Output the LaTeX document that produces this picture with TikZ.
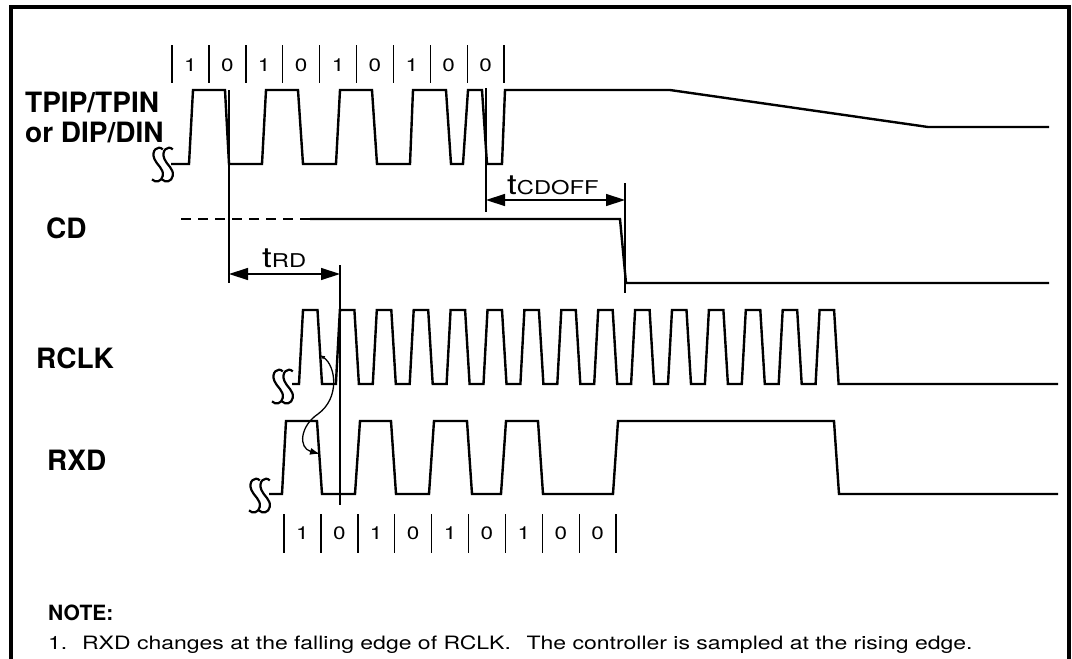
\documentclass[tikz,border=0pt]{standalone}
\usepackage{fontspec}
\setmainfont{TeX Gyre Heros}
\newfontfamily\dimfont[FakeStretch=1.25]{TeX Gyre Heros}
\usetikzlibrary{arrows.meta,positioning}

\newcommand{\tsub}[1]{{\dimfont\fontsize{28}{28}\selectfont t\fontsize{19}{20}\selectfont #1}}

\begin{document}
\begin{tikzpicture}[
  x=1pt, y=-1pt,
  sig/.style={line width=2.4pt, line join=miter},
  guide/.style={line width=1.4pt},
  dim/.style={{Triangle[length=19pt,width=12pt]}-{Triangle[length=19pt,width=12pt]}, line width=1.4pt},
  lbl/.style={font=\bfseries\fontsize{28}{30}\selectfont, inner sep=0pt, anchor=base west},
  bit/.style={font=\dimfont\fontsize{18}{20}\selectfont, inner sep=0pt},
  brk/.pic={
    \foreach \o in {-5,5}
      \draw[line width=2.2pt, xshift=\o pt, scale=1.2]
        (4,-13) .. controls (0,-17) and (-6,-12) .. (-3,-5)
        .. controls (-1,0) and (5,3) .. (4,9)
        .. controls (3,14) and (-2,15) .. (-5,12);
  }
]
\useasboundingbox (0,0) rectangle (1072,659);
\draw[line width=4.5pt] (11,659) -- (11,7) -- (1069,7) -- (1069,659);

\node[lbl] (tpip) at (25,112) {TPIP/TPIN};
\node[lbl] (dip) at (25,142) {or DIP/DIN};
\node[lbl] (cd) at (46,238) {CD};
\node[lbl] (rclk) at (36,368) {RCLK};
\node[lbl] (rxd) at (47,470) {RXD};

\foreach \b [count=\i] in {1,0,1,0,1,0,1,0,0} {
  \node[bit] (tb\i) at ({172+36.9*(\i-0.5)},65) {\b};
  \node[bit] (rb\i) at ({284+36.9*(\i-0.5)},533) {\b};
}
\foreach \i in {0,...,9} {
  \draw[guide] ({172+36.9*\i},45) -- ++(0,38);
  \draw[guide] ({284+36.9*\i},514) -- ++(0,39);
}

\pic at (163,165) {brk};
\draw[sig] (171,164) -- (189,164) -- (193,90) -- (225,90) -- (229,164) -- (262,164)
  -- (266,90) -- (298,90) -- (303,164) -- (336,164) -- (340,90) -- (372,90)
  -- (377,164) -- (410,164) -- (413,90) -- (446,90) -- (451,164) -- (463,164)
  -- (468,90) -- (482,90) -- (487,164) -- (502,164) -- (505,90) -- (670,90)
  -- (928,127) -- (1049,127);

\draw[sig, dash pattern=on 10pt off 7pt] (181,219) -- (310,219);
\draw[sig] (310,219) -- (620,219) -- (626,283) -- (1049,283);

\pic at (283,387) {brk};
\draw[sig] (292,384) \foreach \k in {0,...,14} {
  -- ({299+36.9*\k},384) -- ({303+36.9*\k},310) -- ({317.5+36.9*\k},310) -- ({322+36.9*\k},384)
} -- (1058,384);

\pic at (260,496) {brk};
\draw[sig] (269,494) -- (282,494) -- (286,421) -- (317,421) -- (322,494) -- (355,494)
  -- (360,421) -- (391,421) -- (396,494) -- (429,494) -- (434,421) -- (467,421)
  -- (472,494) -- (501,494) -- (506,421) -- (538,421) -- (543,494) -- (613,494)
  -- (618,421) -- (834,421) -- (839,494) -- (1058,494);

\coordinate (rdtop) at (229,90);
\coordinate (rdbot) at (229,283);
\coordinate (rdend) at (340,265);
\coordinate (rdfoot) at (340,505);
\coordinate (offtop) at (486,88);
\coordinate (offbot) at (486,212);
\coordinate (offend) at (625,183);
\coordinate (offfoot) at (625,293);
\draw[guide] (rdtop) -- (rdbot);
\draw[guide] (rdend) -- (rdfoot);
\draw[guide] (offtop) -- (offbot);
\draw[guide] (offend) -- (offfoot);

\draw[dim] (rdtop |- 0,274) -- (rdend |- 0,274);
\draw[dim] (offtop |- 0,200) -- (offend |- 0,200);
\node[inner sep=0pt, anchor=base west] (trd) at (262,267) {\tsub{RD}};
\node[inner sep=0pt, anchor=base west] (tcdoff) at (507,194) {\tsub{CDOFF}};

\coordinate (clkfall) at (320,355);
\coordinate (rxdfall) at (320,454);
\draw[{Latex[length=5pt,width=4pt]}-{Latex[length=10pt,width=7pt]}, line width=1.3pt]
  (clkfall) .. controls (336,366) and (340,398) .. (318,414)
  .. controls (300,426) and (298,448) .. (rxdfall);

\node[font=\bfseries\fontsize{21}{22}\selectfont, inner sep=0pt, anchor=base west] (note) at (48,620) {NOTE:};
\node[font=\dimfont\fontsize{18.4}{22}\selectfont, inner sep=0pt, anchor=base west] (note1) at (48,649)
  {1.\hspace{0.8em}RXD changes at the falling edge of RCLK.\hspace{0.5em} The controller is sampled at the rising edge.};
\end{tikzpicture}
\end{document}
